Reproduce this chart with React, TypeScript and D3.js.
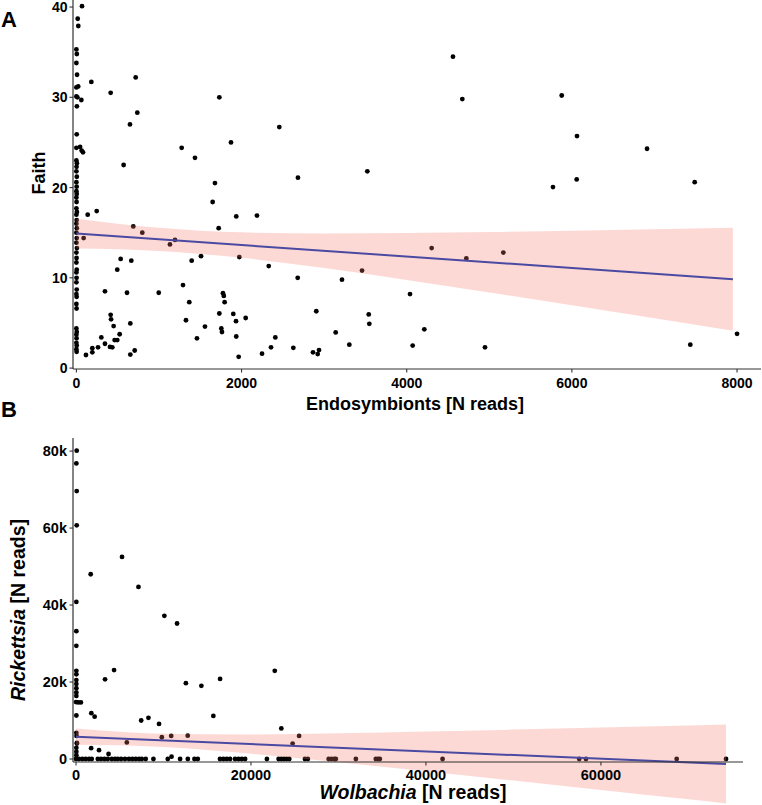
import React from "react";
import * as d3 from "d3";

// ---------- Panel A data: Endosymbionts [N reads] vs Faith ----------
const faithPoints: [number, number][] = [
  [68, 40.1], [16, 38.7], [23, 37.9], [0, 35.3], [5, 34.8], [0, 33.8], [8, 32.5], [0, 31.1], [22, 31.2],
  [0, 30.1], [12, 30.0], [60, 29.7], [6, 29.0], [4, 25.9], [0, 24.4], [45, 24.5], [64, 24.1], [80, 23.9],
  [0, 23.0], [6, 22.7], [2, 22.3], [0, 21.8], [5, 21.2], [0, 20.6], [3, 20.1],
  [0, 19.6], [4, 19.3], [0, 18.9], [2, 18.4], [0, 17.7], [6, 17.3], [0, 17.0], [3, 16.4], [0, 16.0],
  [5, 15.5], [0, 15.0], [4, 14.4], [0, 13.9], [6, 13.3], [0, 12.8], [2, 12.2], [0, 11.7], [4, 10.9],
  [0, 10.6], [2, 10.0], [0, 9.5], [4, 8.7], [0, 8.2], [3, 7.9], [0, 7.1], [2, 6.6], [0, 4.4], [4, 4.0],
  [0, 3.7], [2, 3.3], [0, 2.8], [4, 2.5], [0, 2.1], [3, 1.8],
  [181, 31.7], [415, 30.5], [718, 32.2], [738, 28.3], [649, 27.0], [572, 22.5], [1275, 24.4], [1436, 23.3],
  [1731, 30.0], [1872, 25.0], [1678, 20.5], [1650, 18.4], [2457, 26.7], [2683, 21.1], [3523, 21.8],
  [4560, 34.5], [4673, 29.8], [5877, 30.2], [6062, 25.7], [6910, 24.3], [5771, 20.05], [6058, 20.9], [7487, 20.6],
  [137, 17.0], [246, 17.4], [88, 14.4], [689, 15.7], [798, 15.0], [1133, 13.7], [1194, 14.2], [1723, 15.5],
  [1936, 16.8], [2187, 16.9],
  [536, 12.1], [665, 11.9], [495, 10.9], [1396, 11.9], [1509, 12.4], [1973, 12.3],
  [346, 8.5], [613, 8.35], [997, 8.35], [1291, 9.2], [1367, 7.3], [1775, 8.3], [1785, 8.0], [1795, 7.3],
  [415, 5.9], [420, 5.4], [451, 4.65], [524, 3.75], [495, 3.1], [463, 3.1], [302, 3.4], [346, 2.7], [262, 2.3],
  [407, 2.35], [435, 2.3], [193, 2.2], [193, 1.75], [116, 1.45], [653, 4.95], [653, 1.5], [706, 1.95],
  [1327, 5.3], [1460, 3.3], [1557, 4.6], [1731, 6.05], [1755, 4.4], [1763, 4.0], [1900, 6.0], [1933, 5.2],
  [1936, 3.5], [1965, 1.25], [2050, 5.55],
  [2329, 11.3], [2680, 10.0], [3216, 9.8], [3459, 10.8], [4302, 13.3], [4722, 12.15], [5170, 12.8], [4040, 8.2],
  [2905, 6.3], [3540, 5.95], [3547, 4.9], [2409, 3.4], [2357, 2.3], [2248, 1.6], [2627, 2.25], [2865, 1.75],
  [2922, 1.55], [2938, 2.0], [3140, 3.95], [3305, 2.6], [4072, 2.5], [4213, 4.3], [4948, 2.3], [8000, 3.8],
  [7434, 2.6],
];
const faithFitX = [0, 7950];
const faithFitY = [14.9, 9.85];
const faithBandX = [0, 500, 1000, 1500, 2000, 3000, 4000, 5000, 6000, 7000, 7950];
const faithBandLo = [13.25, 13.16, 12.97, 12.65, 12.22, 11.08, 9.76, 8.38, 6.96, 5.53, 4.15];
const faithBandHi = [16.55, 16.0, 15.55, 15.23, 15.04, 14.92, 14.96, 15.08, 15.22, 15.39, 15.55];
const faithXTicks = [0, 2000, 4000, 6000, 8000];
const faithYTicks = [0, 10, 20, 30, 40];

// ---------- Panel B data: Wolbachia vs Rickettsia (reads, y in thousands) ----------
const rickPoints: [number, number][] = [
  [80, 80.1], [40, 76.8], [80, 69.6], [80, 60.7], [40, 40.8], [40, 33.2], [40, 29.4], [40, 22.9], [40, 22.0],
  [40, 20.5], [40, 19.5], [40, 18.4], [40, 17.3], [40, 16.4], [0, 14.8], [250, 14.7], [560, 14.7], [40, 11.3],
  [40, 6.8], [60, 6.0], [100, 4.2], [100, 4.0], [40, 2.9], [40, 1.9], [40, 1.0],
  [1680, 48.0], [5260, 52.5], [7140, 44.7], [10100, 37.2], [11550, 35.2], [4350, 23.1], [3320, 20.7],
  [12560, 19.7], [14330, 19.0], [16470, 20.8], [15700, 11.2], [1750, 11.9], [2130, 11.0], [7450, 10.0],
  [8280, 10.7], [9490, 9.1], [9810, 5.65], [10880, 6.0], [12770, 6.05], [5810, 4.3], [22720, 22.9],
  [23470, 7.95], [24760, 4.0], [25500, 6.0], [1730, 2.8], [2630, 2.3], [3720, 1.3], [10920, 0.6],
];
const rickZeroRowX = [
  0, 340, 730, 1110, 1490, 1800, 2490, 2860, 3250, 3630, 4090, 4460, 4770, 5150, 5600, 6060, 6450, 6830,
  7210, 7520, 7970, 8850, 10490, 11900, 12780, 13540, 13920, 16460, 16850, 17230, 17610, 18180, 18570,
  18950, 19330, 21820, 23160, 23450, 23750, 24060, 24380, 26170, 26500, 28880, 29220, 29540, 29700,
  31990, 34270, 34530, 34730, 41900, 57520, 58290, 68660, 74300,
];
const rickFitX = [0, 74300];
const rickFitY = [5.8, -1.3];
const rickBandX = [0, 5000, 10000, 20000, 30000, 40000, 50000, 60000, 70000, 74300];
const rickBandLo = [3.7, 3.55, 3.1, 1.39, -0.83, -3.19, -5.6, -8.07, -10.49, -11.54];
const rickBandHi = [7.9, 7.09, 6.58, 6.39, 6.69, 7.15, 7.64, 8.19, 8.71, 8.94];
const rickXTicks = [0, 20000, 40000, 60000];
const rickYTicks = [0, 20, 40, 60, 80];
const rickYTickLabels = ["0", "20k", "40k", "60k", "80k"];

const FONT = "'Liberation Sans', Arial, Helvetica, sans-serif";
const AXIS = "#333333";
const BAND = "#F8766D";
const LINE = "#4a4aa2";

export default function App() {
  // Panel A scales
  const ax = d3.scaleLinear().domain([-41, 8290]).range([73, 761]);
  const ay = d3.scaleLinear().domain([-0.1, 40.78]).range([369, 0]);
  // Panel B scales
  const bx = d3.scaleLinear().domain([-343, 76240]).range([73, 743]);
  const by = d3.scaleLinear().domain([-0.78, 83.4]).range([762, 438]);

  const bandA = d3
    .area<number>()
    .x((_, i) => ax(faithBandX[i]))
    .y0((_, i) => ay(faithBandLo[i]))
    .y1((_, i) => ay(faithBandHi[i]))
    .curve(d3.curveMonotoneX)(faithBandX);
  const lineA = d3
    .line<number>()
    .x((_, i) => ax(faithFitX[i]))
    .y((_, i) => ay(faithFitY[i]))(faithFitX);

  const bandB = d3
    .area<number>()
    .x((_, i) => bx(rickBandX[i]))
    .y0((_, i) => by(rickBandLo[i]))
    .y1((_, i) => by(rickBandHi[i]))
    .curve(d3.curveMonotoneX)(rickBandX);
  const lineB = d3
    .line<number>()
    .x((_, i) => bx(rickFitX[i]))
    .y((_, i) => by(rickFitY[i]))(rickFitX);

  const R = 2.4;

  return (
    <svg
      width={762}
      height={805}
      style={{ position: "absolute", left: 0, top: 0, display: "block", background: "#fff" }}
      fontFamily={FONT}
    >
      <rect x={0} y={0} width={762} height={805} fill="#fff" />

      {/* ---------------- Panel A ---------------- */}
      <text x={1} y={27} fontSize={22} fontWeight="bold" fill="#000">A</text>
      {faithPoints.map((d, i) => (
        <circle key={"a" + i} cx={ax(d[0])} cy={ay(d[1])} r={R} fill="#000" />
      ))}
      <path d={bandA || ""} fill={BAND} fillOpacity={0.28} />
      <path d={lineA || ""} fill="none" stroke={LINE} strokeWidth={2} />
      {/* axes */}
      <line x1={73} x2={73} y1={0} y2={369} stroke={AXIS} strokeWidth={1.2} />
      <line x1={73} x2={761} y1={369} y2={369} stroke={AXIS} strokeWidth={1.2} />
      {faithYTicks.map((t) => (
        <g key={"ay" + t}>
          <line x1={69.5} x2={73} y1={ay(t)} y2={ay(t)} stroke={AXIS} strokeWidth={1.1} />
          <text x={67.5} y={ay(t)} dy="0.36em" textAnchor="end" fontSize={14} fontWeight="bold" fill="#000">
            {t}
          </text>
        </g>
      ))}
      {faithXTicks.map((t) => (
        <g key={"ax" + t}>
          <line x1={ax(t)} x2={ax(t)} y1={369} y2={372.5} stroke={AXIS} strokeWidth={1.1} />
          <text x={ax(t)} y={388} textAnchor="middle" fontSize={14} fontWeight="bold" fill="#000">
            {t}
          </text>
        </g>
      ))}
      <text
        transform={`translate(45,173) rotate(-90)`}
        textAnchor="middle"
        fontSize={18}
        fontWeight="bold"
        fill="#000"
      >
        Faith
      </text>
      <text x={415} y={410} textAnchor="middle" fontSize={18} fontWeight="bold" fill="#000">
        Endosymbionts [N reads]
      </text>

      {/* ---------------- Panel B ---------------- */}
      <text x={1} y={417} fontSize={22} fontWeight="bold" fill="#000">B</text>
      {rickPoints.map((d, i) => (
        <circle key={"b" + i} cx={bx(d[0])} cy={by(d[1])} r={R} fill="#000" />
      ))}
      {rickZeroRowX.map((x, i) => (
        <circle key={"bz" + i} cx={bx(x)} cy={by(0)} r={R} fill="#000" />
      ))}
      <path d={bandB || ""} fill={BAND} fillOpacity={0.28} />
      <path d={lineB || ""} fill="none" stroke={LINE} strokeWidth={2} />
      <line x1={73} x2={73} y1={438} y2={762} stroke={AXIS} strokeWidth={1.2} />
      <line x1={73} x2={743} y1={762} y2={762} stroke={AXIS} strokeWidth={1.2} />
      {rickYTicks.map((t, i) => (
        <g key={"by" + t}>
          <line x1={69.5} x2={73} y1={by(t)} y2={by(t)} stroke={AXIS} strokeWidth={1.1} />
          <text x={67} y={by(t)} dy="0.36em" textAnchor="end" fontSize={14.5} fontWeight="bold" fill="#000">
            {rickYTickLabels[i]}
          </text>
        </g>
      ))}
      {rickXTicks.map((t) => (
        <g key={"bx" + t}>
          <line x1={bx(t)} x2={bx(t)} y1={762} y2={765.5} stroke={AXIS} strokeWidth={1.1} />
          <text x={bx(t)} y={780} textAnchor="middle" fontSize={14.5} fontWeight="bold" fill="#000">
            {t}
          </text>
        </g>
      ))}
      <text
        transform={`translate(25,610) rotate(-90)`}
        textAnchor="middle"
        fontSize={19.5}
        fontWeight="bold"
        fill="#000"
      >
        <tspan fontStyle="italic">Rickettsia</tspan>
        <tspan> [N reads]</tspan>
      </text>
      <text x={413} y={799} textAnchor="middle" fontSize={19.5} fontWeight="bold" fill="#000">
        <tspan fontStyle="italic">Wolbachia</tspan>
        <tspan> [N reads]</tspan>
      </text>
    </svg>
  );
}
